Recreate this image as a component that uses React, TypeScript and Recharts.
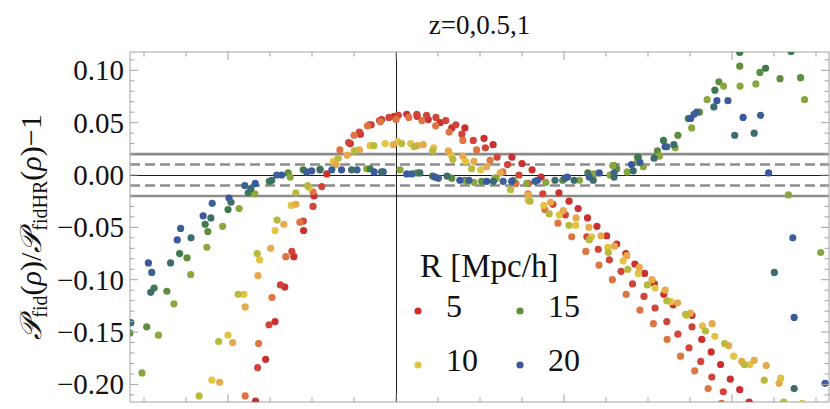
import { ScatterChart, Scatter, XAxis, YAxis, ReferenceLine, Legend } from 'recharts'

const FONT = "'Liberation Serif', 'Times New Roman', 'DejaVu Serif', serif"
const FRAME = '#a3a3a3'
const serif = { fontFamily: FONT }

// axis ticks (the density axis carries no labels in the original)
const xTicks = [0.25, 0.375, 0.5, 0.625, 0.75, 0.875, 1, 1.125, 1.25, 1.375, 1.5, 1.625, 1.75, 1.875, 2, 2.125, 2.25]
const xMajor = [0.5, 1, 1.5, 2]
const yTicks = [-0.21, -0.2, -0.19, -0.18, -0.17, -0.16, -0.15, -0.14, -0.13, -0.12, -0.11, -0.1, -0.09, -0.08, -0.07, -0.06, -0.05, -0.04, -0.03, -0.02, -0.01, 0, 0.01, 0.02, 0.03, 0.04, 0.05, 0.06, 0.07, 0.08, 0.09, 0.1, 0.11]
const yMajor = [-0.2, -0.15, -0.1, -0.05, 0, 0.05, 0.1]
const xDomain = [0.2083, 2.2887]
const yDomain = [-0.2168, 0.1175]

// tolerance bands
const solidBand = [-0.02, 0.02]
const dashedBand = [-0.01, 0.01]
const rhoMean = 1

// R [Mpc/h] -> legend
const radii = ['5', '10', '15', '20']
const radiusColors = ['#c9302f', '#e2c444', '#5e8d3d', '#3a58a0']

// R = 5, three redshifts
const r5a = [[0.582,-0.216],[0.612,-0.176],[0.640,-0.140],[0.669,-0.107],[0.696,-0.078],[0.725,-0.053],[0.756,-0.020],[0.794,0.001],[0.864,0.030],[0.894,0.039],[0.926,0.048],[0.957,0.053],[0.995,0.056],[1.032,0.058],[1.063,0.056],[1.096,0.053],[1.131,0.050],[1.166,0.045],[1.205,0.045],[1.262,0.035],[1.289,0.029],[1.345,0.017],[1.375,0.011],[1.405,0.005],[1.432,-0.002],[1.485,-0.017],[1.515,-0.025],[1.542,-0.032],[1.570,-0.041],[1.598,-0.049],[1.627,-0.058],[1.657,-0.066],[1.684,-0.075],[1.711,-0.085],[1.740,-0.094],[1.769,-0.104],[1.797,-0.114],[1.825,-0.124],[1.881,-0.134],[1.910,-0.157],[1.938,-0.169],[1.966,-0.181],[1.995,-0.195],[2.023,-0.205],[2.051,-0.217]]
const r5b = [[0.588,-0.184],[0.622,-0.143],[0.656,-0.105],[0.690,-0.073],[0.724,-0.044],[0.753,-0.030],[0.779,-0.011],[0.859,0.031],[0.891,0.041],[0.921,0.048],[0.951,0.052],[0.979,0.055],[1.007,0.057],[1.062,0.058],[1.091,0.057],[1.119,0.055],[1.148,0.052],[1.178,0.048],[1.196,0.039],[1.230,0.033],[1.266,0.026],[1.301,0.017],[1.332,0.010],[1.366,0.000],[1.394,-0.008],[1.437,-0.018],[1.467,-0.028],[1.504,-0.038],[1.568,-0.059],[1.602,-0.071],[1.635,-0.081],[1.670,-0.092],[1.704,-0.104],[1.738,-0.116],[1.771,-0.127],[1.806,-0.140],[1.839,-0.152],[1.872,-0.165],[1.881,-0.145],[1.907,-0.178],[1.940,-0.193],[1.974,-0.207]]
const r5c = [[0.551,-0.211],[0.591,-0.161],[0.631,-0.117],[0.672,-0.078],[0.714,-0.045],[0.753,-0.016],[0.833,0.024],[0.875,0.038],[0.915,0.047],[0.954,0.051],[1.000,0.053],[1.038,0.055],[1.077,0.052],[1.118,0.047],[1.158,0.041],[1.199,0.033],[1.240,0.024],[1.280,0.014],[1.318,0.003],[1.357,-0.008],[1.393,-0.018],[1.443,-0.033],[1.482,-0.046],[1.523,-0.059],[1.565,-0.073],[1.604,-0.086],[1.644,-0.100],[1.685,-0.114],[1.726,-0.129],[1.766,-0.142],[1.807,-0.157],[1.847,-0.173],[1.889,-0.187],[1.929,-0.204],[1.969,-0.218]]

// R = 10
const r10a = [[0.452,-0.196],[0.500,-0.153],[0.547,-0.114],[0.594,-0.081],[0.640,-0.053],[0.688,-0.029],[0.741,-0.012],[0.813,0.013],[0.875,0.023],[0.923,0.028],[0.968,0.030],[1.005,0.032],[1.044,0.030],[1.112,0.026],[1.164,0.019],[1.207,0.013],[1.252,0.005],[1.295,-0.003],[1.393,-0.024],[1.440,-0.029],[1.486,-0.038],[1.535,-0.048],[1.582,-0.059],[1.630,-0.069],[1.676,-0.082],[1.721,-0.094],[1.771,-0.108],[1.818,-0.121],[1.865,-0.134],[1.912,-0.144],[1.949,-0.154],[2.005,-0.173],[2.053,-0.181],[2.145,-0.194],[2.209,-0.218]]
const r10b = [[0.475,-0.198],[0.514,-0.160],[0.551,-0.126],[0.589,-0.096],[0.627,-0.070],[0.666,-0.047],[0.702,-0.028],[0.821,0.010],[0.855,0.019],[0.891,0.024],[0.992,0.029],[1.063,0.028],[1.081,0.029],[1.156,0.023],[1.199,0.018],[1.232,0.013],[1.270,0.008],[1.310,0.002],[1.394,-0.019],[1.460,-0.026],[1.498,-0.034],[1.536,-0.041],[1.574,-0.050],[1.610,-0.058],[1.650,-0.068],[1.687,-0.077],[1.724,-0.088],[1.762,-0.100],[1.801,-0.110],[1.838,-0.122],[1.876,-0.132],[1.941,-0.142],[1.990,-0.163],[2.029,-0.178],[2.066,-0.177],[2.102,-0.182],[2.140,-0.199]]
const r10c = [[0.414,-0.211],[0.472,-0.159],[0.530,-0.114],[0.587,-0.075],[0.646,-0.043],[0.702,-0.017],[0.737,-0.010],[0.828,0.016],[0.878,0.023],[0.934,0.028],[1.017,0.030],[1.054,0.027],[1.109,0.023],[1.169,0.015],[1.225,0.006],[1.293,-0.003],[1.341,-0.014],[1.399,-0.025],[1.456,-0.037],[1.515,-0.048],[1.575,-0.062],[1.632,-0.074],[1.690,-0.090],[1.748,-0.105],[1.806,-0.120],[1.862,-0.133],[1.921,-0.149],[1.978,-0.161],[2.037,-0.181],[2.096,-0.196],[2.154,-0.217]]

// R = 15
const r15a = [[0.208,-0.151],[0.258,-0.145],[0.318,-0.111],[0.378,-0.079],[0.440,-0.054],[0.679,0.002],[1.062,0.002],[1.166,-0.003],[1.205,-0.005],[1.255,-0.006],[1.349,-0.005],[1.496,-0.005],[1.649,0.009],[1.657,0.006],[1.719,0.017],[1.778,0.023],[1.839,0.038],[1.903,0.060],[1.961,0.089],[2.023,0.104],[2.083,0.098],[2.143,0.092],[2.204,0.093]]
const r15b = [[0.244,-0.189],[0.293,-0.153],[0.339,-0.123],[0.389,-0.095],[0.437,-0.069],[0.484,-0.049],[0.533,-0.032],[0.580,-0.018],[0.685,-0.002],[0.774,0.006],[0.913,0.006],[1.012,0.005],[1.210,-0.006],[1.232,-0.007],[1.298,-0.003],[1.389,-0.008],[1.446,-0.007],[1.546,-0.005],[1.590,0.001],[1.637,0.000],[1.645,0.009],[1.688,0.003],[1.718,0.012],[1.736,0.008],[1.784,0.018],[1.831,0.026],[1.880,0.045],[1.926,0.072],[1.975,0.085],[2.024,0.085],[2.071,0.087],[2.168,-0.019],[2.216,0.072],[2.264,-0.074]]
const r15c = [[0.280,-0.108],[0.356,-0.075],[0.432,-0.047],[0.500,-0.033],[0.560,-0.017],[0.623,-0.006],[0.724,0.005],[0.923,0.006],[1.109,-0.001],[1.571,0.002],[1.721,0.017],[1.796,0.033],[1.870,0.054],[1.949,0.081],[2.023,0.117],[2.100,0.102],[2.176,0.118]]

// R = 20
const r20a = [[0.263,-0.084],[0.349,-0.062],[0.426,-0.039],[0.503,-0.022],[0.581,-0.008],[0.660,0.000],[0.749,0.004],[0.838,0.005],[0.935,0.003],[1.032,0.001],[1.116,-0.002],[1.190,-0.005],[1.270,-0.006],[1.344,-0.006],[1.421,-0.005],[1.510,-0.002],[1.605,0.002],[1.701,0.010],[1.801,0.027],[1.877,0.054],[1.955,0.071],[2.033,0.055],[2.109,0.002],[2.185,-0.136]]
const r20b = [[0.273,-0.093],[0.359,-0.051],[0.453,-0.027],[0.550,-0.010],[0.645,0.000],[0.734,0.003],[0.809,0.005],[0.884,0.005],[0.962,0.003],[1.047,0.001],[1.126,-0.003],[1.217,-0.005],[1.319,-0.006],[1.414,-0.006],[1.503,-0.003],[1.575,-0.002],[1.649,0.002],[1.726,0.012],[1.806,0.027],[1.887,0.058],[1.895,0.060],[1.988,0.071],[2.085,0.057],[2.181,-0.060],[2.277,-0.199]]
const r20c = [[0.211,-0.141],[0.270,-0.112],[0.329,-0.084],[0.390,-0.060],[0.449,-0.041],[0.509,-0.026],[0.568,-0.013],[0.630,-0.005],[0.774,0.005],[0.868,0.005],[0.957,0.003],[1.071,0.002],[1.152,-0.001],[1.290,-0.006],[1.473,-0.005],[1.530,-0.005],[1.587,-0.005],[1.649,-0.002],[1.706,0.004],[1.768,0.016],[1.827,0.029],[1.946,0.065],[2.008,0.038],[2.066,0.040],[2.126,-0.093],[2.185,-0.204]]

const series = [
  { name: 'R5 z0', pts: r5a, color: '#c9302f' },
  { name: 'R5 z0.5', pts: r5b, color: '#d1443a' },
  { name: 'R5 z1', pts: r5c, color: '#dc7541' },
  { name: 'R10 z0', pts: r10a, color: '#e2c444' },
  { name: 'R10 z0.5', pts: r10b, color: '#e6a94b' },
  { name: 'R10 z1', pts: r10c, color: '#b8b93d' },
  { name: 'R15 z0', pts: r15a, color: '#5e8d3d' },
  { name: 'R15 z0.5', pts: r15b, color: '#8aa73d' },
  { name: 'R15 z1', pts: r15c, color: '#3f7a4d' },
  { name: 'R20 z0', pts: r20a, color: '#3a58a0' },
  { name: 'R20 z0.5', pts: r20b, color: '#3c5f96' },
  { name: 'R20 z1', pts: r20c, color: '#3d6c6d' },
]

const isMajor = (v: number, list: number[]) => list.some((m) => Math.abs(m - v) < 1e-9)
const fmt = (v: number) => (v < -1e-9 ? '\u2212' : '') + Math.abs(v).toFixed(2)

// Mathematica style ticks: pointing into the frame, longer on majors
const LeftTick = ({ x, y, payload }: any) => {
  const major = isMajor(payload.value, yMajor)
  return (
    <g>
      <line x1={x} x2={x + (major ? 8 : 4.5)} y1={y} y2={y} stroke={FRAME} />
      {major && (
        <text x={x - 6} y={y + 10} textAnchor="end" fontSize={29} style={serif} fill="#111">
          {fmt(payload.value)}
        </text>
      )}
    </g>
  )
}
const RightTick = ({ x, y, payload }: any) => (
  <line x1={x} x2={x - (isMajor(payload.value, yMajor) ? 8 : 4.5)} y1={y} y2={y} stroke={FRAME} />
)
const BottomTick = ({ x, y, payload }: any) => (
  <line x1={x} x2={x} y1={y} y2={y - (isMajor(payload.value, xMajor) ? 8 : 4.5)} stroke={FRAME} />
)
const TopTick = ({ x, y, payload }: any) => (
  <line x1={x} x2={x} y1={y} y2={y + (isMajor(payload.value, xMajor) ? 8 : 4.5)} stroke={FRAME} />
)

const RLegend = () => (
  <svg width={200} height={140} style={{ display: 'block' }}>
    <text x={15} y={32} fontSize={33} style={serif} fill="#111">R [Mpc/h]</text>
    {radii.map((r, i) => {
      const col = i < 2 ? 0 : 1
      const row = i % 2
      const cx = 13 + col * 102
      const cy = 66 + row * 54
      return (
        <g key={r}>
          <circle cx={cx} cy={cy} r={3.6} fill={radiusColors[i]} />
          <text x={cx + 28} y={cy + 6} fontSize={32} style={serif} fill="#111">{r}</text>
        </g>
      )
    })}
  </svg>
)

export default function App() {
  return (
    <div style={{ position: 'absolute', left: 0, top: 0, width: 830, height: 409, background: '#fff', fontFamily: FONT }}>
      <ScatterChart width={830} height={409} margin={{ top: 0, right: 0, bottom: 0, left: 0 }}>
        <XAxis
          dataKey="x" type="number" domain={xDomain} ticks={xTicks} interval={0} allowDataOverflow
          height={7} tickSize={0} tickMargin={0} tickLine={false} axisLine={{ stroke: FRAME }}
          tick={(p: any) => <BottomTick {...p} />}
        />
        <XAxis
          xAxisId="top" orientation="top" dataKey="x" type="number" domain={xDomain} ticks={xTicks} interval={0} allowDataOverflow
          height={52} tickSize={0} tickMargin={0} tickLine={false} axisLine={{ stroke: FRAME }}
          tick={(p: any) => <TopTick {...p} />}
        />
        <YAxis
          dataKey="y" type="number" domain={yDomain} ticks={yTicks} interval={0} allowDataOverflow
          width={130} tickSize={0} tickMargin={0} tickLine={false} axisLine={{ stroke: FRAME }}
          tick={(p: any) => <LeftTick {...p} />}
        />
        <YAxis
          yAxisId="right" orientation="right" dataKey="y" type="number" domain={yDomain} ticks={yTicks} interval={0} allowDataOverflow
          width={1} tickSize={0} tickMargin={0} tickLine={false} axisLine={{ stroke: FRAME }}
          tick={(p: any) => <RightTick {...p} />}
        />

        {solidBand.map((v) => (
          <ReferenceLine key={'s' + v} y={v} stroke="#8c8c8c" strokeWidth={2.6} />
        ))}
        {dashedBand.map((v) => (
          <ReferenceLine key={'d' + v} y={v} stroke="#8c8c8c" strokeWidth={2.6} strokeDasharray="10 5" />
        ))}
        <ReferenceLine y={0} stroke="#1a1a1a" strokeWidth={1} shapeRendering="crispEdges" />
        <ReferenceLine x={rhoMean} stroke="#1a1a1a" strokeWidth={1} shapeRendering="crispEdges" />

        {series.map((s) => (
          <Scatter
            key={s.name}
            name={s.name}
            data={s.pts.map(([x, y]) => ({ x, y }))}
            isAnimationActive={false}
            shape={(p: any) => <circle cx={p.cx} cy={p.cy} r={3.6} fill={s.color} />}
          />
        ))}

        <Legend
          layout="vertical" align="center" verticalAlign="middle"
          content={() => <RLegend />}
          wrapperStyle={{ left: 405, top: 245, width: 200, height: 140 }}
        />
      </ScatterChart>

      <svg width={830} height={409} style={{ position: 'absolute', left: 0, top: 0, pointerEvents: 'none' }}>
        <text x={479.5} y={34} textAnchor="middle" fontSize={27} style={serif} fill="#111">z=0,0.5,1</text>
        <text transform="translate(41,227) rotate(-90)" textAnchor="middle" fontSize={30} style={serif} fill="#111">
          <tspan fontStyle="italic">𝒫</tspan>
          <tspan fontSize={20} dy={6}>fid</tspan>
          <tspan dy={-6}>(</tspan>
          <tspan fontStyle="italic">ρ</tspan>
          <tspan>)/</tspan>
          <tspan fontStyle="italic">𝒫</tspan>
          <tspan fontSize={20} dy={6}>fidHR</tspan>
          <tspan dy={-6}>(</tspan>
          <tspan fontStyle="italic">ρ</tspan>
          <tspan>){'\u2212'}1</tspan>
        </text>
      </svg>
    </div>
  )
}
